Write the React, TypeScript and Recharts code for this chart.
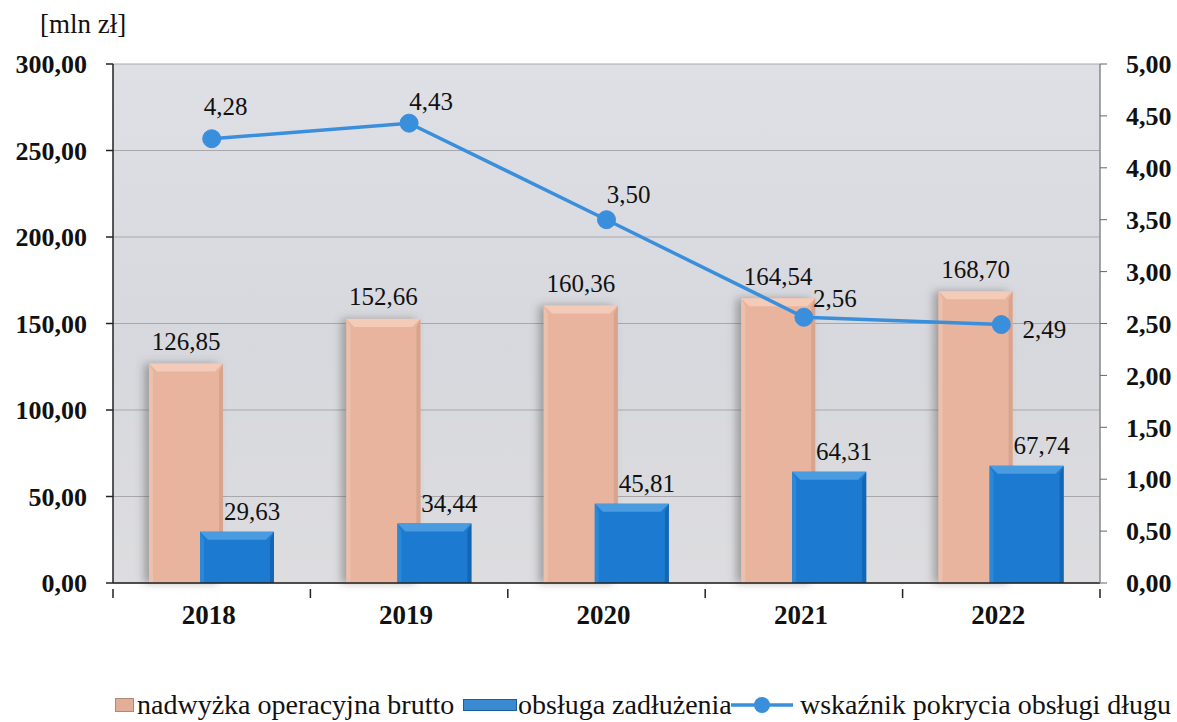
import React from "react";
import {
  ComposedChart,
  CartesianGrid,
  XAxis,
  YAxis,
  Bar,
  Line,
  LabelList,
} from "recharts";

const years = ["2018", "2019", "2020", "2021", "2022"];
const surplus = [126.85, 152.66, 160.36, 164.54, 168.7];
const debtService = [29.63, 34.44, 45.81, 64.31, 67.74];
const coverage = [4.28, 4.43, 3.5, 2.56, 2.49];

const leftTicks = [0, 50, 100, 150, 200, 250, 300];
const rightTicks = [0, 0.5, 1, 1.5, 2, 2.5, 3, 3.5, 4, 4.5, 5];

// where the ratio labels sit relative to their point
const ratioLabelOffset = [
  [14, -32],
  [22, -22],
  [22, -25],
  [31, -19],
  [43, 5],
];

const data = years.map((y, i) => ({
  year: y,
  surplus: surplus[i],
  debt: debtService[i],
  ratio: coverage[i],
}));

const FONT = "Liberation Serif, DejaVu Serif, Times New Roman, serif";
const fmt = (v: number) => Number(v).toFixed(2).replace(".", ",");

function BevelBar(props: any) {
  const { x, y, width, height, base, light, dark, edge, shadow } = props;
  if (!height || height <= 0) return null;
  const b = Math.min(8, height / 2);
  return (
    <g>
      <rect x={x} y={y} width={width} height={height} fill={base} filter={shadow ? "url(#barShadow)" : undefined} />
      <polygon
        points={`${x},${y} ${x + width},${y} ${x + width - b},${y + b} ${x + b},${y + b}`}
        fill={light}
      />
      <polygon
        points={`${x},${y} ${x + b / 2},${y + b} ${x + b / 2},${y + height} ${x},${y + height}`}
        fill={edge}
      />
      <polygon
        points={`${x + width},${y} ${x + width - b / 2},${y + b} ${x + width - b / 2},${y + height} ${x + width},${y + height}`}
        fill={dark}
      />
    </g>
  );
}

function XTick(props: any) {
  const { x, y, payload, index, visibleTicksCount } = props;
  const off = payload.offset || 0;
  const axisY = y - 22;
  return (
    <g>
      <line x1={x - off} y1={axisY} x2={x - off} y2={axisY + 9} stroke="#222" strokeWidth={1.5} />
      {index === visibleTicksCount - 1 && (
        <line x1={x + off} y1={axisY} x2={x + off} y2={axisY + 9} stroke="#222" strokeWidth={1.5} />
      )}
      <text
        x={x - 3}
        y={y + 13}
        textAnchor="middle"
        fontFamily={FONT}
        fontWeight="bold"
        fontSize={27}
        fill="#111"
      >
        {payload.value}
      </text>
    </g>
  );
}

const legendText: React.CSSProperties = {
  position: "absolute",
  top: 0,
  fontFamily: FONT,
  fontSize: 28,
  lineHeight: "34px",
  color: "#111",
  whiteSpace: "nowrap",
};

export default function App() {
  return (
    <div style={{ position: "absolute", left: 0, top: 0, width: 1177, height: 722, background: "#fff" }}>
      <div style={{ position: "absolute", left: 40, top: 9, fontFamily: FONT, fontSize: 27, color: "#111" }}>
        [mln zł]
      </div>
      <ComposedChart
        width={1177}
        height={722}
        data={data}
        margin={{ top: 64, right: 7, left: 13, bottom: 89 }}
        barSize={74}
        barGap={-23}
        style={{ fontFamily: FONT }}
      >
        <defs>
          <linearGradient id="plotBg" x1="0" y1="0" x2="0" y2="1">
            <stop offset="0%" stopColor="#dfe0e5" />
            <stop offset="55%" stopColor="#d7d8dd" />
            <stop offset="100%" stopColor="#dddde0" />
          </linearGradient>
          <filter id="barShadow" x="-30%" y="-10%" width="160%" height="120%">
            <feDropShadow dx={-5} dy={0} stdDeviation={4} floodColor="#555" floodOpacity={0.45} />
          </filter>
        </defs>
        <CartesianGrid
          vertical={false}
          stroke="#a8a8ac"
          fill="url(#plotBg)"
          fillOpacity={1}
          yAxisId="left"
        />
        <XAxis
          dataKey="year"
          height={50}
          axisLine={{ stroke: "#222", strokeWidth: 1.5 }}
          tickLine={false}
          tickMargin={22}
          tick={<XTick />}
          interval={0}
        />
        <YAxis
          yAxisId="left"
          width={100}
          domain={[0, 300]}
          ticks={leftTicks}
          tickFormatter={fmt}
          axisLine={{ stroke: "#222", strokeWidth: 1.5 }}
          tickLine={{ stroke: "#222", strokeWidth: 1.5 }}
          tickSize={7}
          tickMargin={19}
          tick={{ fontFamily: FONT, fontWeight: "bold", fontSize: 26, fill: "#111" }}
        />
        <YAxis
          yAxisId="right"
          orientation="right"
          width={70}
          domain={[0, 5]}
          ticks={rightTicks}
          tickFormatter={fmt}
          axisLine={{ stroke: "#888", strokeWidth: 1.5 }}
          tickLine={{ stroke: "#666", strokeWidth: 1 }}
          tickSize={7}
          tickMargin={19}
          tick={{ fontFamily: FONT, fontWeight: "bold", fontSize: 26, fill: "#111" }}
        />
        <Bar
          yAxisId="left"
          dataKey="surplus"
          name="nadwyżka operacyjna brutto"
          isAnimationActive={false}
          shape={(p: any) => (
            <BevelBar {...p} shadow base="#e8b49e" light="#f3cbb8" edge="#edc0ab" dark="#d9a48e" />
          )}
        >
          <LabelList
            dataKey="surplus"
            content={(p: any) => (
              <text
                x={p.x + p.width / 2}
                y={p.y - 22}
                textAnchor="middle"
                dominantBaseline="central"
                fontFamily={FONT}
                fontSize={25}
                fill="#111"
              >
                {fmt(p.value)}
              </text>
            )}
          />
        </Bar>
        <Bar
          yAxisId="left"
          dataKey="debt"
          name="obsługa zadłużenia"
          isAnimationActive={false}
          shape={(p: any) => (
            <BevelBar {...p} base="#1c7bd0" light="#4a9be0" edge="#2a88d8" dark="#1466b4" />
          )}
        >
          <LabelList
            dataKey="debt"
            content={(p: any) => (
              <text
                x={p.x + p.width / 2 + 15}
                y={p.y - 20}
                textAnchor="middle"
                dominantBaseline="central"
                fontFamily={FONT}
                fontSize={25}
                fill="#111"
              >
                {fmt(p.value)}
              </text>
            )}
          />
        </Bar>
        <Line
          yAxisId="right"
          dataKey="ratio"
          name="wskaźnik pokrycia obsługi długu"
          stroke="#3a8fdc"
          strokeWidth={3.5}
          dot={{ r: 9, fill: "#3a8fdc", stroke: "#3a8fdc", strokeWidth: 1 }}
          isAnimationActive={false}
        >
          <LabelList
            dataKey="ratio"
            content={(p: any) => {
              const o = ratioLabelOffset[p.index] || [0, -25];
              return (
                <text
                  x={p.x + o[0]}
                  y={p.y + o[1]}
                  textAnchor="middle"
                  dominantBaseline="central"
                  fontFamily={FONT}
                  fontSize={25}
                  fill="#111"
                >
                  {fmt(p.value)}
                </text>
              );
            }}
          />
        </Line>
      </ComposedChart>
      <div style={{ position: "absolute", left: 0, top: 688, width: 1177, height: 34 }}>
        <span style={{ position: "absolute", left: 115, top: 10, width: 19, height: 14, background: "#e2ae98", border: "1px solid #b08878", boxSizing: "border-box" }} />
        <span style={{ ...legendText, left: 137 }}>nadwyżka operacyjna brutto</span>
        <span style={{ position: "absolute", left: 463, top: 11, width: 54, height: 12, background: "#3a8ad2", border: "1px solid #1b5e9c", boxSizing: "border-box" }} />
        <span style={{ ...legendText, left: 518 }}>obsługa zadłużenia</span>
        <svg width={62} height={24} style={{ position: "absolute", left: 731, top: 5 }}>
          <line x1={0} y1={12} x2={62} y2={12} stroke="#3a8fdc" strokeWidth={3.5} />
          <circle cx={31} cy={12} r={8} fill="#3a8fdc" />
        </svg>
        <span style={{ ...legendText, left: 800 }}>wskaźnik pokrycia obsługi długu</span>
      </div>
    </div>
  );
}
